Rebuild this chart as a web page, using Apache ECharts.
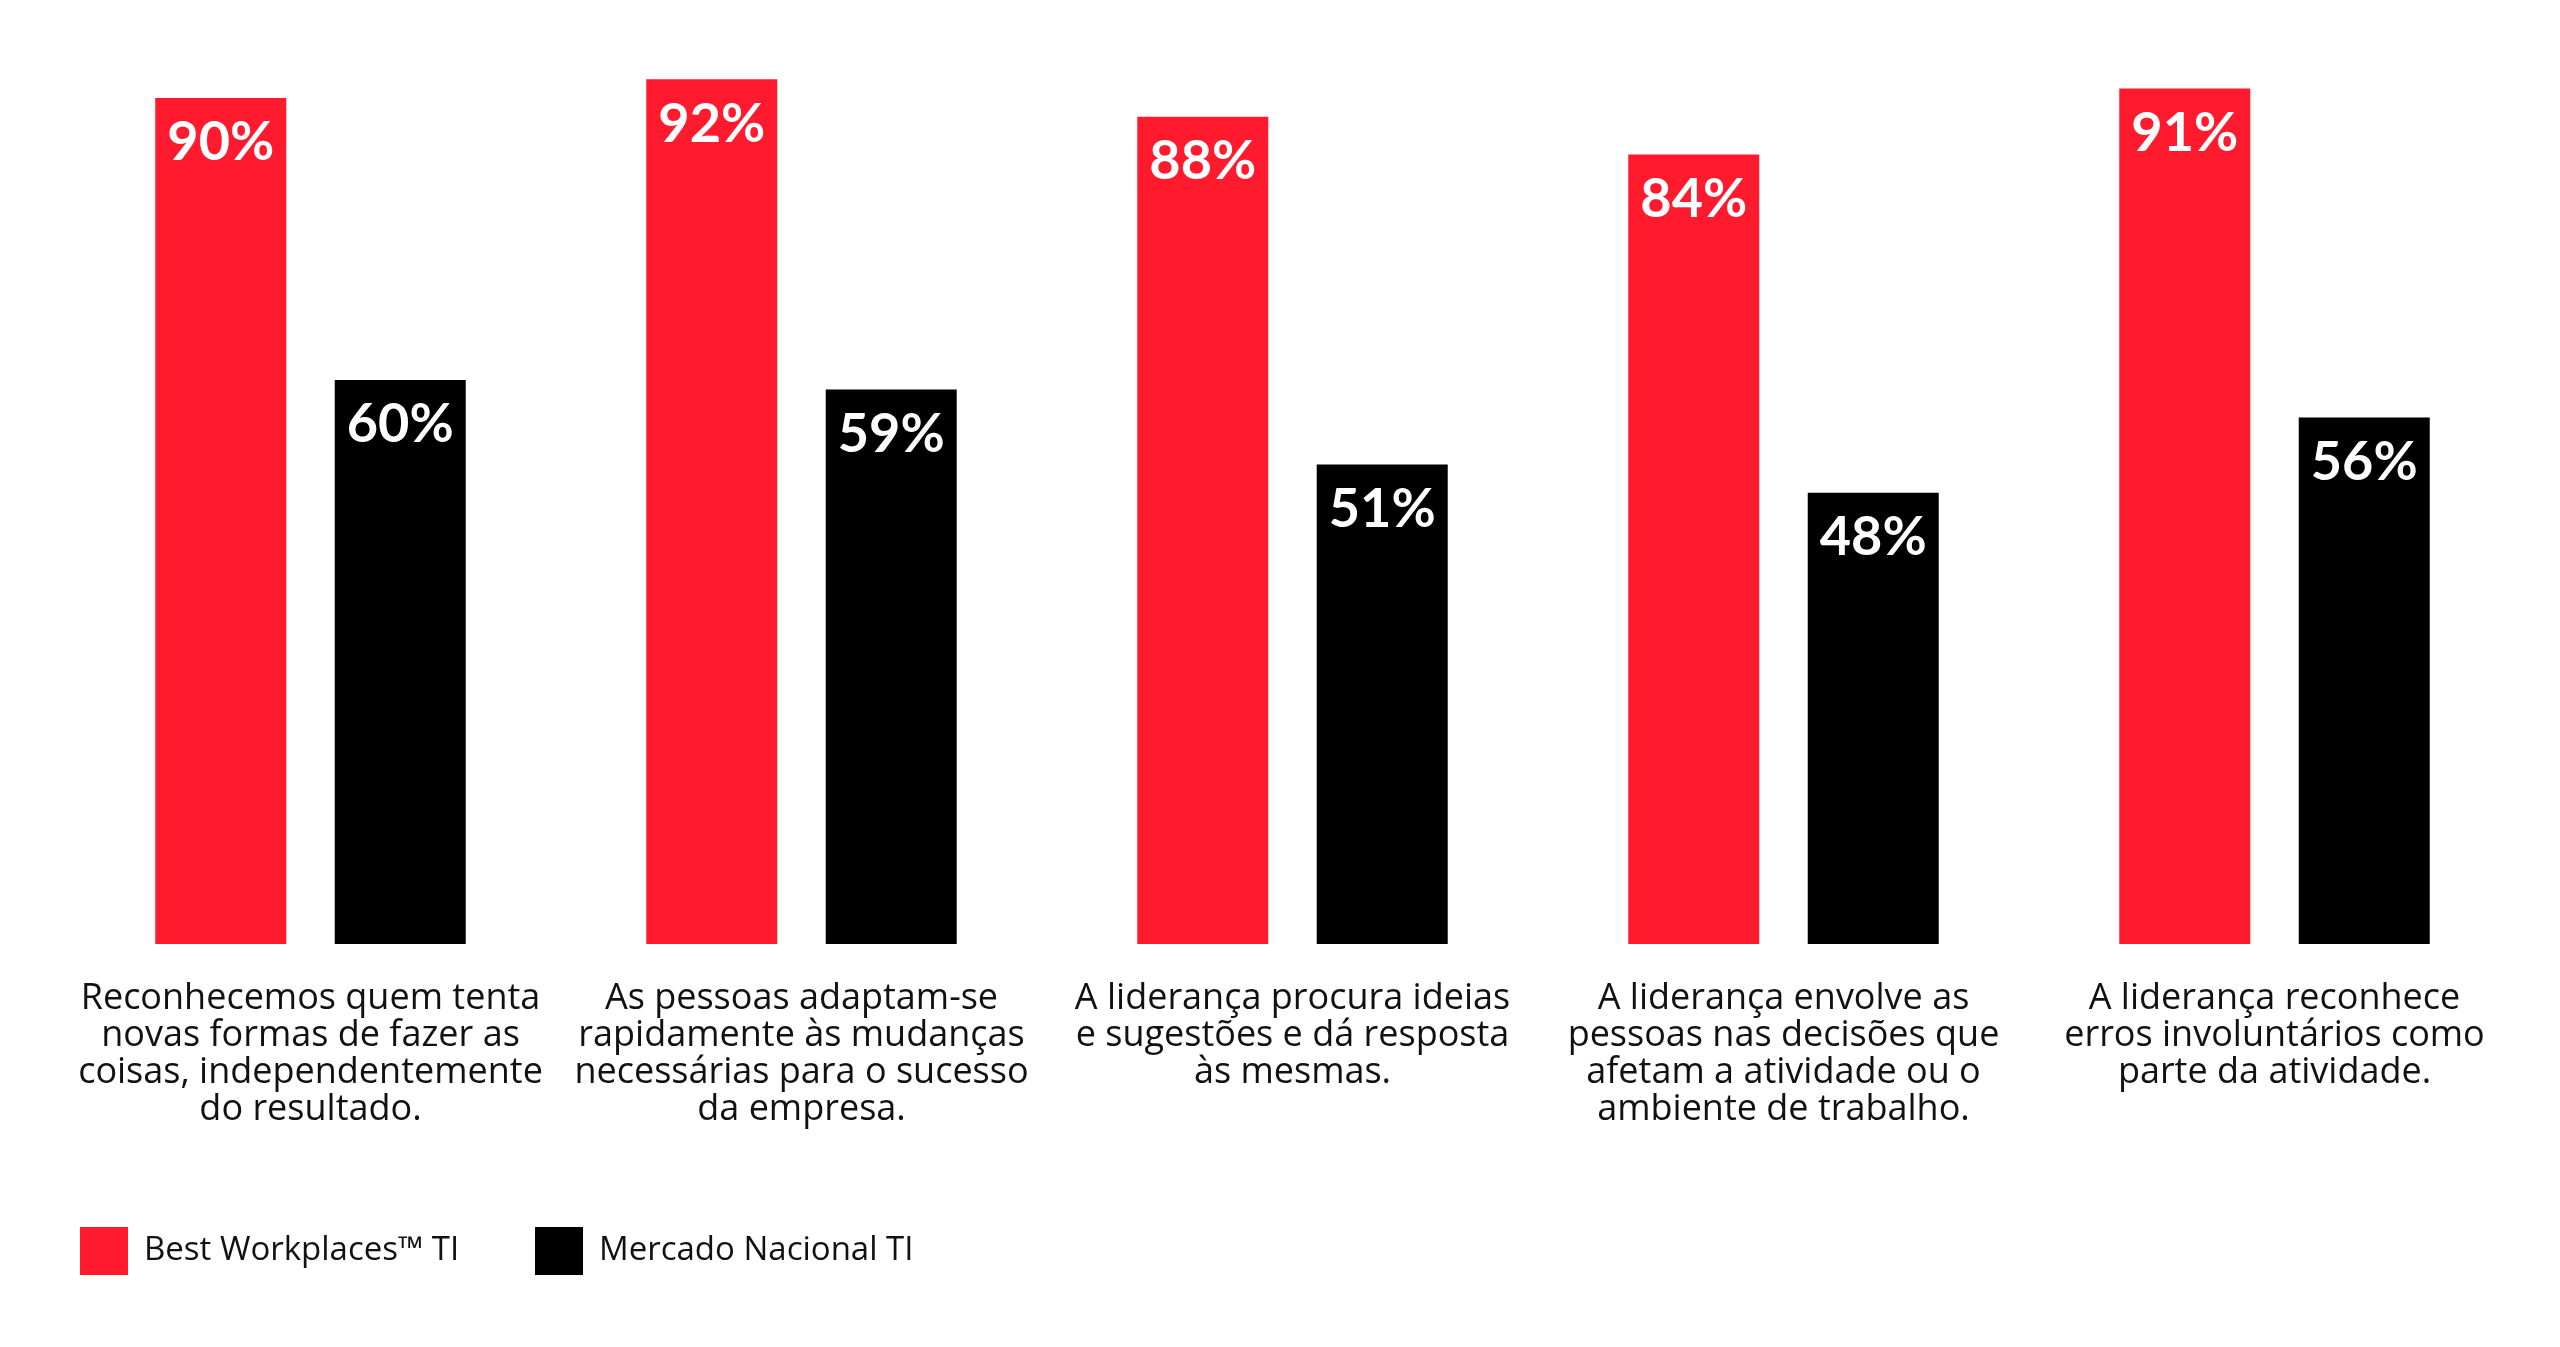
<!DOCTYPE html>
<html>
<head>
    <meta charset="utf-8" />
    <title>Best Workplaces TI</title>
    <script src="https://cdn.jsdelivr.net/npm/echarts@6/dist/echarts.min.js"></script>
    <style>
        html, body { margin: 0; padding: 0; background: #fff; }
        #main { width: 2560px; height: 1347px; }
    </style>
</head>
<body>
<div id="main"></div>
<script type="text/javascript">
    var categories = [
        'Reconhecemos quem tenta\nnovas formas de fazer as\ncoisas, independentemente\ndo resultado.',
        'As pessoas adaptam-se\nrapidamente às mudanças\nnecessárias para o sucesso\nda empresa.',
        'A liderança procura ideias\ne sugestões e dá resposta\nàs mesmas.',
        'A liderança envolve as\npessoas nas decisões que\nafetam a atividade ou o\nambiente de trabalho.',
        'A liderança reconhece\nerros involuntários como\nparte da atividade.'
    ];
    var bestWorkplaces = [90, 92, 88, 84, 91];
    var mercadoNacional = [60, 59, 51, 48, 56];
    var seriesNames = ['Best Workplaces™ TI', 'Mercado Nacional TI'];

    var font = 'Lato';
    var textFont = 'Open Sans';
    var myChart = echarts.init(document.getElementById('main'));

    var barLabel = {
        show: true,
        position: 'insideTop',
        distance: 18,
        color: '#fff',
        fontFamily: font,
        fontWeight: 'bold',
        fontSize: 54,
        formatter: '{c}%'
    };

    var legendText = { fontFamily: textFont, fontSize: 33, color: '#111', padding: [0, 0, 0, 11] };

    var option = {
        animation: false,
        legend: [
            {
                data: [seriesNames[0]],
                left: 75,
                top: 1222,
                itemWidth: 48,
                itemHeight: 48,
                icon: 'rect',
                textStyle: legendText
            },
            {
                data: [seriesNames[1]],
                left: 530,
                top: 1222,
                itemWidth: 48,
                itemHeight: 48,
                icon: 'rect',
                textStyle: legendText
            }
        ],
        grid: {
            left: 65,
            right: 40,
            top: 4,
            height: 940
        },
        xAxis: {
            type: 'category',
            data: categories,
            axisLine: { show: false },
            axisTick: { show: false },
            axisLabel: {
                interval: 0,
                margin: 36,
                fontFamily: textFont,
                fontSize: 36,
                lineHeight: 37,
                color: '#111'
            }
        },
        yAxis: {
            type: 'value',
            min: 0,
            max: 100,
            show: false,
            splitLine: { show: false }
        },
        series: [
            {
                name: seriesNames[0],
                type: 'bar',
                barWidth: 131,
                barGap: '37%',
                itemStyle: { color: '#ff1a2d' },
                label: barLabel,
                data: bestWorkplaces
            },
            {
                name: seriesNames[1],
                type: 'bar',
                barWidth: 131,
                itemStyle: { color: '#000' },
                label: barLabel,
                data: mercadoNacional
            }
        ]
    };

    myChart.setOption(option);
</script>
</body>
</html>
